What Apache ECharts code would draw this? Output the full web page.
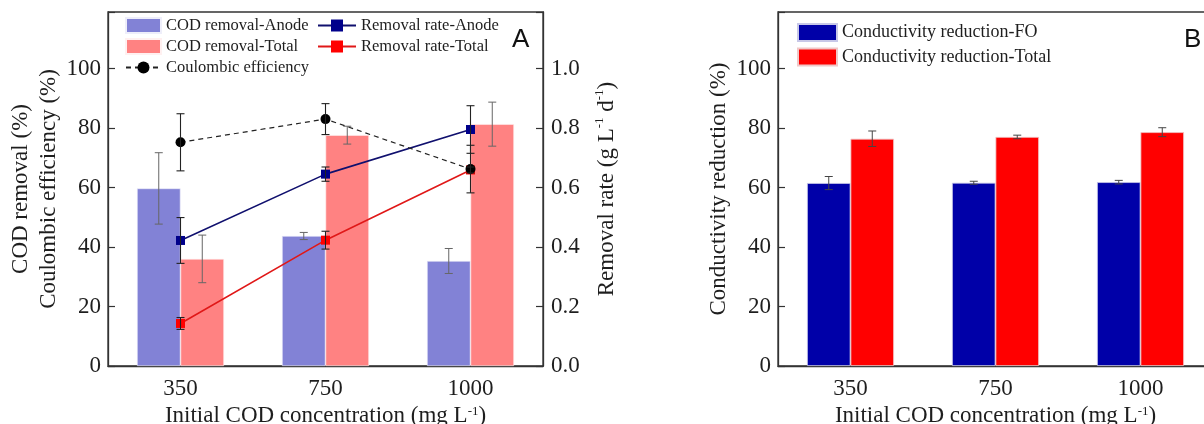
<!DOCTYPE html>
<html>
<head>
<meta charset="utf-8">
<script src="https://cdn.jsdelivr.net/npm/echarts@6/dist/echarts.min.js"></script>
<style>
  html, body { margin: 0; padding: 0; background: #fff; }
  #chart { width: 1204px; height: 424px; }
</style>
</head>
<body>
<div id="chart"></div>
<script>
// Initial COD concentrations (mg/L)
const categories = ['350', '750', '1000'];

// Panel A: COD removal (%) by bars
const codAnode = [59.7, 43.7, 35.3];
const codAnodeErr = [12.0, 1.2, 4.2];
const codTotal = [36.0, 77.6, 81.3];
const codTotalErr = [8.0, 3.0, 7.4];

// Panel A: Coulombic efficiency (%)
const coulombic = [75.2, 83.0, 66.2];
const coulombicErr = [9.6, 5.2, 8.0];

// Panel A: removal rate (g L-1 d-1), right axis
const rateAnode = [0.422, 0.645, 0.795];
const rateAnodeErr = [0.077, 0.024, 0.08];
const rateTotal = [0.143, 0.423, 0.659];
const rateTotalErr = [0.02, 0.03, 0.01];

// Panel B: conductivity reduction (%)
const condFO = [61.5, 61.6, 61.8];
const condFOErr = [2.2, 0.5, 0.6];
const condTotal = [76.4, 77.0, 78.6];
const condTotalErr = [2.6, 0.6, 1.5];

const SERIF = 'Liberation Serif, Times New Roman, serif';
const TXT = '#1e1e1e';
const CAT_GAP = 0.4;

function withErr(vals, errs) {
  return vals.map((v, i) => [i, v, errs[i]]);
}

// Vertical error bar with caps; offsetSign shifts it to a bar centre in a two-bar group
function errorBarRenderer(offsetSign, color, capHalf, lw) {
  return function (params, api) {
    const i = api.value(0), v = api.value(1), e = api.value(2);
    const band = api.size([1, 0])[0];
    const dx = offsetSign * band * (1 - CAT_GAP) / 4;
    const top = api.coord([i, v + e]);
    const bot = api.coord([i, v - e]);
    const x = top[0] + dx;
    const style = { stroke: color, lineWidth: lw };
    return {
      type: 'group',
      children: [
        { type: 'line', shape: { x1: x, y1: top[1], x2: x, y2: bot[1] }, style },
        { type: 'line', shape: { x1: x - capHalf, y1: top[1], x2: x + capHalf, y2: top[1] }, style },
        { type: 'line', shape: { x1: x - capHalf, y1: bot[1], x2: x + capHalf, y2: bot[1] }, style }
      ]
    };
  };
}

const supRich = {
  sup: { fontSize: 13, fontFamily: SERIF, color: TXT, verticalAlign: 'top', lineHeight: 14 }
};

function catAxis(gridIndex) {
  return {
    type: 'category', gridIndex, data: categories,
    boundaryGap: true,
    axisLine: { lineStyle: { color: '#333', width: 1.3 } },
    axisTick: { show: false },
    axisLabel: { fontFamily: SERIF, fontSize: 23, color: TXT, margin: 11 },
    name: 'Initial COD concentration (mg L{sup|-1})',
    nameLocation: 'middle', nameGap: 31,
    nameTextStyle: { fontFamily: SERIF, fontSize: 23, color: TXT, rich: supRich }
  };
}

function valAxis(opts) {
  return Object.assign({
    type: 'value', min: 0,
    axisLine: { show: true, lineStyle: { color: '#333', width: 1.3 } },
    axisTick: { show: true, inside: true, length: 7, lineStyle: { color: '#333', width: 1.2 } },
    splitLine: { show: false },
    nameLocation: 'middle', nameRotate: 90,
    nameTextStyle: { fontFamily: SERIF, fontSize: 23, color: TXT, lineHeight: 28, rich: supRich }
  }, opts);
}

const pctLabel = { fontFamily: SERIF, fontSize: 23, color: TXT, margin: 7,
  formatter: v => (v > 100 ? '' : String(v)) };

const legendText = size => ({ fontFamily: SERIF, fontSize: size, color: TXT, lineHeight: 15 });

const gridBase = {
  top: 12, width: 435, height: 354, show: true,
  borderColor: '#333', borderWidth: 1.3, backgroundColor: 'transparent',
  outerBoundsMode: 'none', containLabel: false
};

const option = {
  animation: false,
  backgroundColor: '#fff',
  grid: [
    Object.assign({ left: 108 }, gridBase),
    Object.assign({ left: 778 }, gridBase)
  ],
  xAxis: [catAxis(0), catAxis(1)],
  yAxis: [
    valAxis({ gridIndex: 0, max: 119, interval: 20, position: 'left',
      axisLabel: pctLabel,
      name: 'COD removal (%)\nCoulombic efficiency (%)', nameGap: 39 }),
    valAxis({ gridIndex: 0, max: 1.19, interval: 0.2, position: 'right',
      axisLabel: { fontFamily: SERIF, fontSize: 23, color: TXT, margin: 8,
        formatter: v => (v > 1.0001 ? '' : v.toFixed(1)) },
      name: 'Removal rate (g L{sup|-1} d{sup|-1})', nameGap: 50 }),
    valAxis({ gridIndex: 1, max: 119, interval: 20, position: 'left',
      axisLabel: pctLabel,
      name: 'Conductivity reduction (%)', nameGap: 44 })
  ],
  legend: [
    {
      orient: 'vertical', left: 120, top: 12, itemWidth: 35, itemHeight: 15, itemGap: 4,
      textStyle: legendText(16.5),
      data: [
        { name: 'COD removal-Anode', icon: 'rect' },
        { name: 'COD removal-Total', icon: 'rect' },
        'Coulombic efficiency'
      ]
    },
    {
      orient: 'vertical', left: 312, top: 12, itemWidth: 38, itemHeight: 15, itemGap: 4,
      textStyle: legendText(16.5),
      data: ['Removal rate-Anode', 'Removal rate-Total']
    },
    {
      orient: 'vertical', left: 792, top: 18, itemWidth: 39, itemHeight: 17, itemGap: 5.5,
      textStyle: { fontFamily: SERIF, fontSize: 18, color: TXT, lineHeight: 17 },
      data: [
        { name: 'Conductivity reduction-FO', icon: 'rect' },
        { name: 'Conductivity reduction-Total', icon: 'rect' }
      ]
    }
  ],
  graphic: [
    { type: 'text', left: 512, top: 27, style: { text: 'A', font: '26px Liberation Sans, Arial, sans-serif', fill: '#111' } },
    { type: 'text', left: 1184, top: 27, style: { text: 'B', font: '26px Liberation Sans, Arial, sans-serif', fill: '#111' } }
  ],
  series: [
    // Panel A bars
    { name: 'COD removal-Anode', type: 'bar', xAxisIndex: 0, yAxisIndex: 0, data: codAnode,
      barGap: '0%', barCategoryGap: '40%', z: 2,
      itemStyle: { color: '#8282d6', borderColor: '#eeeefa', borderWidth: 0.6 } },
    { name: 'COD removal-Total', type: 'bar', xAxisIndex: 0, yAxisIndex: 0, data: codTotal,
      barGap: '0%', barCategoryGap: '40%', z: 2,
      itemStyle: { color: '#ff8282', borderColor: '#fff0f0', borderWidth: 0.6 } },
    { type: 'custom', xAxisIndex: 0, yAxisIndex: 0, data: withErr(codAnode, codAnodeErr), z: 3,
      renderItem: errorBarRenderer(-1, '#666', 4, 1), encode: { x: 0, y: 1 }, silent: true },
    { type: 'custom', xAxisIndex: 0, yAxisIndex: 0, data: withErr(codTotal, codTotalErr), z: 3,
      renderItem: errorBarRenderer(1, '#666', 4, 1), encode: { x: 0, y: 1 }, silent: true },
    // Panel A lines
    { name: 'Removal rate-Total', type: 'line', xAxisIndex: 0, yAxisIndex: 1, data: rateTotal,
      symbol: 'rect', symbolSize: 9, z: 4,
      lineStyle: { color: '#e01818', width: 1.6 }, itemStyle: { color: '#ff0000' } },
    { name: 'Removal rate-Anode', type: 'line', xAxisIndex: 0, yAxisIndex: 1, data: rateAnode,
      symbol: 'rect', symbolSize: 9, z: 4,
      lineStyle: { color: '#10106e', width: 1.6 }, itemStyle: { color: '#00008b' } },
    { name: 'Coulombic efficiency', type: 'line', xAxisIndex: 0, yAxisIndex: 0, data: coulombic,
      symbol: 'circle', symbolSize: 10, z: 4,
      lineStyle: { color: '#222', width: 1.2, type: [5, 4] }, itemStyle: { color: '#000' } },
    // Panel A error bars of the line series
    { type: 'custom', xAxisIndex: 0, yAxisIndex: 1, data: withErr(rateTotal, rateTotalErr), z: 5,
      renderItem: errorBarRenderer(0, '#222', 4, 1.1), encode: { x: 0, y: 1 }, silent: true },
    { type: 'custom', xAxisIndex: 0, yAxisIndex: 1, data: withErr(rateAnode, rateAnodeErr), z: 5,
      renderItem: errorBarRenderer(0, '#222', 4, 1.1), encode: { x: 0, y: 1 }, silent: true },
    { type: 'custom', xAxisIndex: 0, yAxisIndex: 0, data: withErr(coulombic, coulombicErr), z: 5,
      renderItem: errorBarRenderer(0, '#222', 4, 1.1), encode: { x: 0, y: 1 }, silent: true },
    // Panel B bars
    { name: 'Conductivity reduction-FO', type: 'bar', xAxisIndex: 1, yAxisIndex: 2, data: condFO,
      barGap: '0%', barCategoryGap: '40%', z: 2,
      itemStyle: { color: '#0000a8', borderColor: '#c8c8e8', borderWidth: 0.8 } },
    { name: 'Conductivity reduction-Total', type: 'bar', xAxisIndex: 1, yAxisIndex: 2, data: condTotal,
      barGap: '0%', barCategoryGap: '40%', z: 2,
      itemStyle: { color: '#ff0000', borderColor: '#f0c8c8', borderWidth: 0.8 } },
    { type: 'custom', xAxisIndex: 1, yAxisIndex: 2, data: withErr(condFO, condFOErr), z: 3,
      renderItem: errorBarRenderer(-1, '#444', 4, 1), encode: { x: 0, y: 1 }, silent: true },
    { type: 'custom', xAxisIndex: 1, yAxisIndex: 2, data: withErr(condTotal, condTotalErr), z: 3,
      renderItem: errorBarRenderer(1, '#444', 4, 1), encode: { x: 0, y: 1 }, silent: true }
  ]
};

const chart = echarts.init(document.getElementById('chart'), null, { renderer: 'canvas' });
chart.setOption(option);
</script>
</body>
</html>
